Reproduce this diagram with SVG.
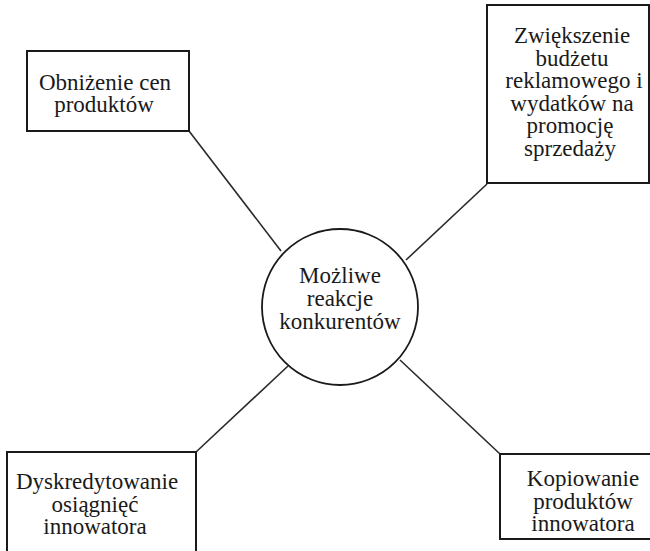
<svg xmlns="http://www.w3.org/2000/svg" width="650" height="551" viewBox="0 0 650 551">
<style>
.box{fill:#fff;stroke:#1a1a1a;stroke-width:2}
.ln{stroke:#2a2a2a;stroke-width:1.6;fill:none}
.t{font-family:'Liberation Serif',serif;font-size:23px;fill:#1a1a1a;text-anchor:middle}
</style>
<rect width="650" height="551" fill="#fff"/>
<g id="connectors">
<line class="ln" x1="189" y1="131" x2="281" y2="251"/>
<line class="ln" x1="487" y1="184" x2="406" y2="260"/>
<line class="ln" x1="288" y1="366" x2="196" y2="452"/>
<line class="ln" x1="400" y1="360" x2="500" y2="454"/>
</g>
<g id="center">
<circle cx="340" cy="307" r="78" fill="#fff" stroke="#1a1a1a" stroke-width="1.8"/>
<text class="t" x="340" y="283">Możliwe</text>
<text class="t" x="340" y="306">reakcje</text>
<text class="t" x="340" y="329">konkurentów</text>
</g>
<g id="n1">
<rect class="box" x="27" y="51" width="162" height="80"/>
<text class="t" x="105" y="90">Obniżenie cen</text>
<text class="t" x="104" y="112">produktów</text>
</g>
<g id="n2">
<rect class="box" x="487" y="5" width="162" height="178"/>
<text class="t" x="572" y="43">Zwiększenie</text>
<text class="t" x="572" y="65.5">budżetu</text>
<text class="t" x="574" y="88">reklamowego i</text>
<text class="t" x="572" y="110.5">wydatków na</text>
<text class="t" x="570" y="133">promocję</text>
<text class="t" x="570" y="155.5">sprzedaży</text>
</g>
<g id="n3">
<rect class="box" x="7" y="452" width="189" height="110"/>
<text class="t" x="97" y="489">Dyskredytowanie</text>
<text class="t" x="95" y="511.5">osiągnięć</text>
<text class="t" x="95" y="534">innowatora</text>
</g>
<g id="n4">
<rect class="box" x="500" y="454" width="160" height="85"/>
<text class="t" x="583" y="486">Kopiowanie</text>
<text class="t" x="583" y="508.5">produktów</text>
<text class="t" x="583" y="531">innowatora</text>
</g>
</svg>
